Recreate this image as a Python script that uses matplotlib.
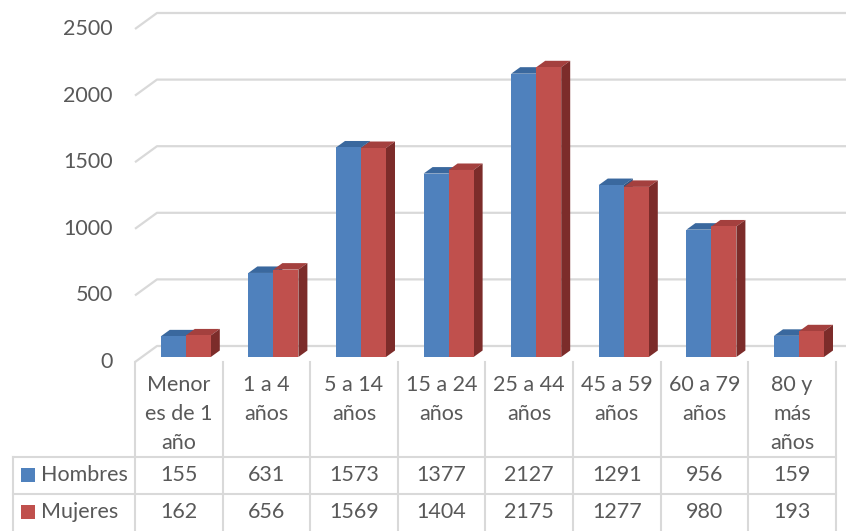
import matplotlib
matplotlib.use("Agg")
import matplotlib.pyplot as plt
from matplotlib.patches import Polygon, Rectangle

categories = ["Menor\nes de 1\naño", "1 a 4\naños", "5 a 14\naños", "15 a 24\naños",
              "25 a 44\naños", "45 a 59\naños", "60 a 79\naños", "80 y\nmás\naños"]
series_names = ["Hombres", "Mujeres"]
hombres = [155, 631, 1573, 1377, 2127, 1291, 956, 159]
mujeres = [162, 656, 1569, 1404, 2175, 1277, 980, 193]
y_ticks = [0, 500, 1000, 1500, 2000, 2500]

# colores estilo Office
FRONT = ["#4f81bd", "#c0504d"]
TOP = ["#3a689e", "#a4403e"]
SIDE = ["#2f5582", "#7c2c2a"]
TXT = "#595959"
GRID = "#d9d9d9"
FS = 15.5

plt.rcParams['font.family'] = ['Lato', 'DejaVu Sans']

W, H = 846, 531
fig = plt.figure(figsize=(W / 100, H / 100), dpi=100)
ax = fig.add_axes([0, 0, 1, 1])
ax.axis("off")

# escala: pixeles por categoria y por unidad
CW = 87.6
K = 333 / 2500.0
X0 = 135          # borde izq. del piso (px)
Y0 = 357          # base de las barras (px)

def py(p):        # pixel vertical -> unidades de datos
    return (Y0 - p) / K

def px(p):        # pixel horizontal -> categoria
    return (p - X0) / CW - 0.5

ax.set_xlim(px(0), px(W))
ax.set_ylim(py(H), py(0))

WX, WY = 22 / CW, 16 / K       # profundidad de la pared
FL = -5 / K                    # piso frontal respecto a la base
BX = 7 / CW                    # desplazamiento de las barras
DX, DY = 9 / CW, 6.5 / K       # profundidad de cada barra
BW = 25 / CW

# rejilla
for v in y_ticks:
    yf = v + FL
    ax.plot([-0.5, -0.5 + WX, px(W) + 1], [yf, yf + WY, yf + WY],
            color=GRID, lw=1.6, solid_capstyle="butt", zorder=1)
    ax.text(px(113), yf, str(v), ha="right", va="center", fontsize=FS, color=TXT)

# barras 3D
def bar3d(x0, h, s):
    x1 = x0 + BW
    ax.add_patch(Polygon([(x0, h), (x0 + DX, h + DY), (x1 + DX, h + DY), (x1, h)],
                         closed=True, fc=TOP[s], ec="none", zorder=3))
    ax.add_patch(Polygon([(x1, 0), (x1 + DX, DY), (x1 + DX, h + DY), (x1, h)],
                         closed=True, fc=SIDE[s], ec="none", zorder=3))
    ax.add_patch(Rectangle((x0, 0), BW, h, fc=FRONT[s], ec="none", zorder=3))

for i in range(len(categories)):
    c = i + BX
    bar3d(c - BW, hombres[i], 0)
    bar3d(c, mujeres[i], 1)

# tabla de datos
ax.plot([px(X0), px(X0)], [py(362), py(H)], color=GRID, lw=1.5, zorder=1)
for j in range(1, len(categories) + 1):
    ax.plot([j - 0.5, j - 0.5], [py(362), py(H)], color=GRID, lw=1.5, zorder=1)
ax.plot([px(13), px(13)], [py(457), py(H)], color=GRID, lw=1.5, zorder=1)
for r in [457, 494]:
    ax.plot([px(13), len(categories) - 0.5], [py(r), py(r)], color=GRID, lw=1.5, zorder=1)

for i, lab in enumerate(categories):
    for n, line in enumerate(lab.split("\n")):
        ax.text(i, py(385 + 29 * n), line, ha="center", va="center", fontsize=FS, color=TXT)

rows = [hombres, mujeres]
for s, (name, vals) in enumerate(zip(series_names, rows)):
    yc = py(475 + 37 * s)
    ax.add_patch(Rectangle((px(21), yc - 7 / K), 14 / CW, 14 / K, fc=FRONT[s], ec="none"))
    ax.text(px(41), yc, name, ha="left", va="center", fontsize=FS, color=TXT)
    for i, v in enumerate(vals):
        ax.text(i, yc, str(v), ha="center", va="center", fontsize=FS, color=TXT)

fig.savefig("out.png", dpi=100)
